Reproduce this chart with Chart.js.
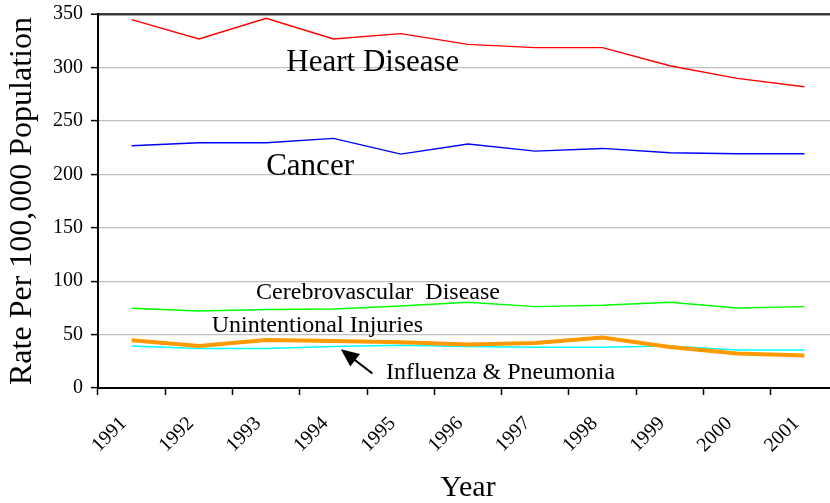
<!DOCTYPE html>
<html>
<head>
<meta charset="utf-8">
<script src="https://cdn.jsdelivr.net/npm/chart.js@4.4.1/dist/chart.umd.min.js"></script>
<style>
  html, body { margin: 0; padding: 0; background: #fff; overflow: hidden; }
  #wrap { width: 840px; height: 503px; }
</style>
</head>
<body>
<div id="wrap"><canvas id="deathChart" width="840" height="503"></canvas></div>
<script>
// Data ====================================
const years = ["1991", "1992", "1993", "1994", "1995", "1996", "1997", "1998", "1999", "2000", "2001"];
const heartDisease = [344.7, 326.6, 346, 326.6, 331.6, 321.6, 318.5, 318.5, 301.6, 289.8, 281.9];
const cancer = [226.7, 229.5, 229.5, 233.6, 218.9, 228.3, 221.7, 224.2, 220.1, 219.2, 219.2];
const cerebrovascular = [74.6, 72.1, 73.4, 74, 76.8, 80.3, 76.2, 77.5, 80.3, 74.9, 76.2];
const injuries = [44.7, 39.3, 45, 44, 42.8, 40.6, 42.1, 47.2, 38.4, 32.2, 30.3];
const influenza = [39.3, 36.9, 36.9, 38.8, 40, 38.8, 38.1, 38.1, 39.3, 35.6, 35.6];
const yTicks = [0, 50, 100, 150, 200, 250, 300, 350];

const serif = "'Liberation Serif', 'Times New Roman', serif";

// text labels drawn on the plot (x = steps from the 1991 point, y = value)
const notes = [
  { text: "Heart Disease", x: 2.3, y: 296.6, size: 31 },
  { text: "Cancer", x: 2.0, y: 199.5, size: 31 },
  { text: "Cerebrovascular  Disease", x: 1.85, y: 83.1, size: 24 },
  { text: "Unintentional Injuries", x: 1.19, y: 52.7, size: 24 },
  { text: "Influenza & Pneumonia", x: 3.78, y: 8.1, size: 24 },
];

const notesPlugin = {
  id: "notes",
  afterDatasetsDraw(chart) {
    const { ctx, scales } = chart;
    const xs = scales.x, ys = scales.y;
    const x0 = xs.getPixelForValue(0);
    const step = xs.getPixelForValue(1) - x0;
    ctx.save();
    ctx.fillStyle = "#000";
    ctx.textBaseline = "alphabetic";
    ctx.textAlign = "left";
    notes.forEach((n) => {
      ctx.font = n.size + "px " + serif;
      ctx.fillText(n.text, x0 + n.x * step, ys.getPixelForValue(n.y));
    });
    // arrow pointing at the influenza line
    const x1 = x0 + 3.58 * step, y1 = ys.getPixelForValue(13.5);
    const x2 = x0 + 3.11 * step, y2 = ys.getPixelForValue(36.2);
    const ang = Math.atan2(y2 - y1, x2 - x1);
    ctx.strokeStyle = "#000";
    ctx.lineWidth = 2;
    ctx.beginPath();
    ctx.moveTo(x1, y1);
    ctx.lineTo(x2 - 10 * Math.cos(ang), y2 - 10 * Math.sin(ang));
    ctx.stroke();
    ctx.beginPath();
    ctx.moveTo(x2, y2);
    ctx.lineTo(x2 - 18 * Math.cos(ang) + 8 * Math.sin(ang), y2 - 18 * Math.sin(ang) - 8 * Math.cos(ang));
    ctx.lineTo(x2 - 18 * Math.cos(ang) - 8 * Math.sin(ang), y2 - 18 * Math.sin(ang) + 8 * Math.cos(ang));
    ctx.closePath();
    ctx.fill();
    ctx.restore();
  },
};

const line = (data, color, width, order) => ({
  data: data,
  borderColor: color,
  backgroundColor: color,
  borderWidth: width,
  pointRadius: 0,
  tension: 0,
  fill: false,
  order: order,
});

const ctx = document.getElementById("deathChart").getContext("2d");
new Chart(ctx, {
  type: "line",
  data: {
    labels: years,
    datasets: [
      line(heartDisease, "#ff0000", 1.4, 1),
      line(cancer, "#0000ff", 1.4, 1),
      line(cerebrovascular, "#00ff00", 1.4, 1),
      line(influenza, "#00ffff", 1.6, 1),
      line(injuries, "#ff9900", 4, 0),
    ],
  },
  plugins: [notesPlugin],
  options: {
    responsive: false,
    animation: false,
    layout: { padding: { top: 14, right: 2, left: 0, bottom: 0 } },
    plugins: {
      legend: { display: false },
      tooltip: { enabled: false },
    },
    scales: {
      x: {
        offset: true,
        grid: {
          offset: true,
          drawOnChartArea: false,
          drawTicks: true,
          tickLength: 7,
          tickColor: "#000",
          tickWidth: 1.5,
        },
        border: { color: "#000", width: 2 },
        ticks: {
          color: "#000",
          font: { family: serif, size: 20 },
          minRotation: 45,
          maxRotation: 45,
          padding: 17,
          labelOffset: -8,
          autoSkip: false,
        },
        title: {
          display: true,
          text: "Year",
          color: "#000",
          font: { family: serif, size: 30, lineHeight: 1 },
          padding: { top: 0, bottom: 0 },
        },
        afterFit: (scale) => {
          scale.height = 115;
          scale.paddingLeft = 0;
          scale.paddingRight = 0;
        },
      },
      y: {
        min: 0,
        max: 350,
        afterBuildTicks: (scale) => { scale.ticks = yTicks.map((v) => ({ value: v })); },
        grid: {
          color: (c) => (c.tick && c.tick.value === 350 ? "#3a3a3a" : "#c0c0c0"),
          lineWidth: (c) => (c.tick && c.tick.value === 350 ? 2.5 : 1.2),
          tickColor: "#000",
          tickLength: 7,
          tickWidth: 1.5,
        },
        border: { color: "#000", width: 2 },
        ticks: {
          color: "#000",
          font: { family: serif, size: 20 },
          padding: 8,
        },
        title: {
          display: true,
          text: "Rate Per 100,000 Population",
          color: "#000",
          font: { family: serif, size: 32, lineHeight: 1 },
          padding: { top: 7, bottom: 0 },
        },
        afterFit: (scale) => {
          scale.width = 98;
          scale.paddingTop = 0;
          scale.paddingBottom = 0;
        },
      },
    },
  },
});
</script>
</body>
</html>
